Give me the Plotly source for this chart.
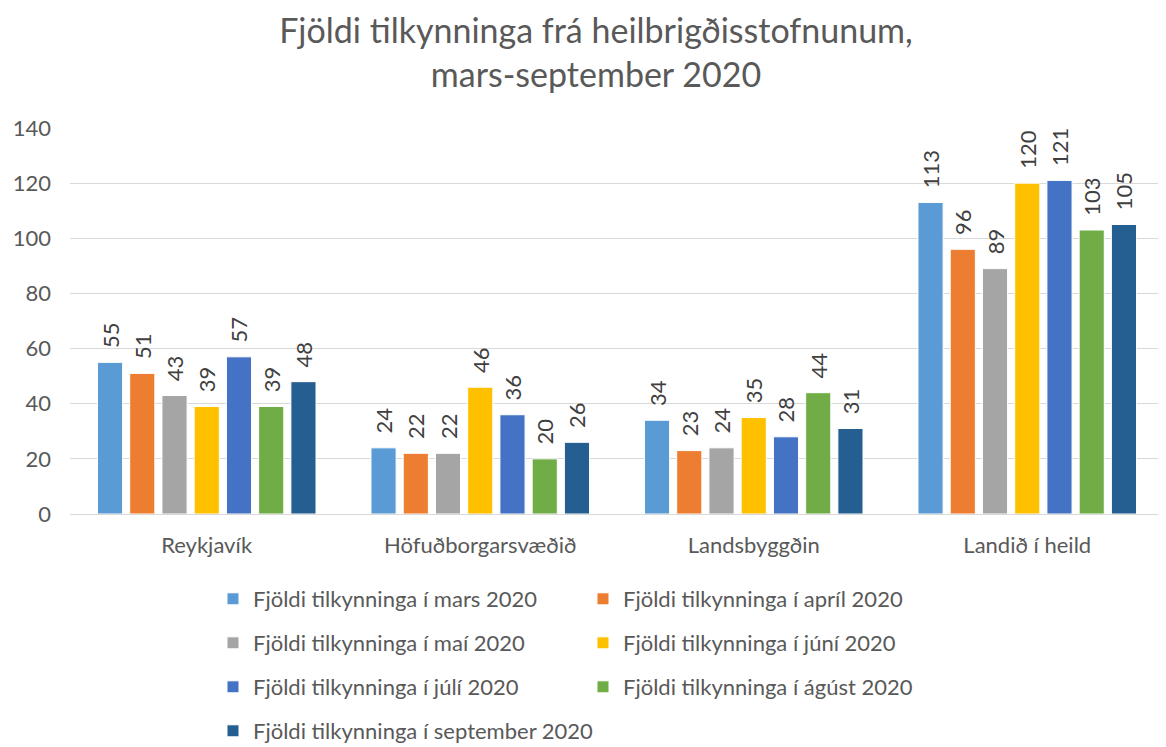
import plotly.graph_objects as go

categories = ["Reykjavík", "Höfuðborgarsvæðið", "Landsbyggðin", "Landið í heild"]
series_names = [
    "Fjöldi tilkynninga í mars 2020",
    "Fjöldi tilkynninga í apríl 2020",
    "Fjöldi tilkynninga í maí 2020",
    "Fjöldi tilkynninga í júní 2020",
    "Fjöldi tilkynninga í júlí 2020",
    "Fjöldi tilkynninga í ágúst 2020",
    "Fjöldi tilkynninga í september 2020",
]
mars = [55, 24, 34, 113]
april = [51, 22, 23, 96]
mai = [43, 22, 24, 89]
juni = [39, 46, 35, 120]
juli = [57, 36, 28, 121]
agust = [39, 20, 44, 103]
september = [48, 26, 31, 105]
series_values = [mars, april, mai, juni, juli, agust, september]
colors = ["#5B9BD5", "#ED7D31", "#A5A5A5", "#FFC000", "#4472C4", "#70AD47", "#255E91"]
legend_ids = ["legend", "legend", "legend2", "legend2", "legend3", "legend3", "legend4"]

FONT = "Lato"
FS = 22
W, H = 1158, 739  # page body has an 8px margin
fig = go.Figure()
for name, vals, col, lg in zip(series_names, series_values, colors, legend_ids):
    fig.add_trace(go.Bar(
        x=categories, y=vals, name=name, legend=lg,
        marker=dict(color=col, line=dict(color="white", width=1)),
        text=["\u00a0\u00a0" + str(v) for v in vals],
        textposition="outside", textangle=-90, constraintext="none",
        textfont=dict(family=FONT, size=FS, color="#404040"),
        cliponaxis=False,
    ))

plot_top, plot_bottom = 120, 506  # in figure pixels
def leg_y(pix):
    return (plot_bottom - (pix - 8)) / (plot_bottom - plot_top)

def leg(pix, ew=325):
    return dict(
        orientation="h", x=0.1307, xanchor="left", y=leg_y(pix), yanchor="middle",
        entrywidth=ew, entrywidthmode="pixels",
        font=dict(family=FONT, size=FS, color="#595959"),
        bgcolor="rgba(0,0,0,0)",
    )

fig.update_layout(
    width=W, height=H,
    paper_bgcolor="white", plot_bgcolor="white",
    margin=dict(l=62, r=2, t=plot_top, b=H - plot_bottom, autoexpand=False),
    barmode="group", bargap=0.175, bargroupgap=0.22,
    title=dict(
        text="Fjöldi tilkynninga frá heilbrigðisstofnunum,<br>mars-september 2020",
        x=588 / W, xref="container", xanchor="center",
        y=1 - 35 / H, yref="container", yanchor="middle",
        font=dict(family=FONT, size=34, color="#595959"),
    ),
    font=dict(family=FONT, color="#595959"),
    showlegend=True,
    legend=leg(599),
    legend2=leg(643),
    legend3=leg(687),
    legend4=leg(731, ew=420),
)
fig.update_yaxes(
    range=[0, 140], dtick=20, showgrid=True, gridcolor="#D9D9D9", gridwidth=1,
    zeroline=True, zerolinecolor="#D9D9D9", zerolinewidth=1, automargin=False,
    tickfont=dict(family=FONT, size=FS, color="#595959"), ticks="", ticklabelstandoff=18,
)
fig.update_xaxes(
    showline=False, ticks="", automargin=False, ticklabelstandoff=16,
    tickfont=dict(family=FONT, size=FS, color="#595959"),
)
fig.write_html("out.html")
